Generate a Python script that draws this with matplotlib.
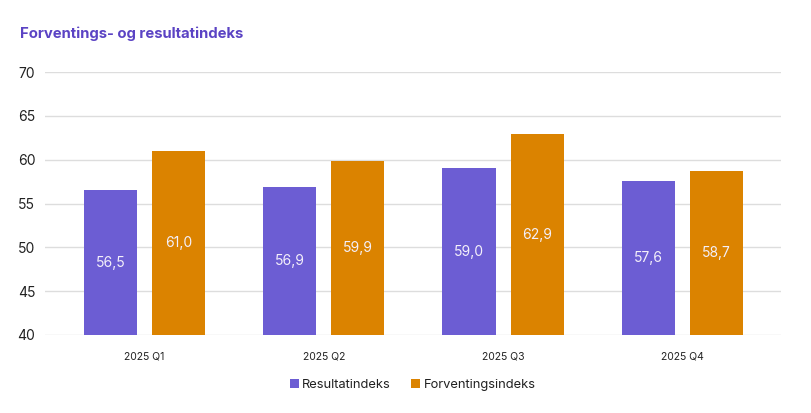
import matplotlib
matplotlib.use("Agg")
import matplotlib.pyplot as plt
import numpy as np

categories = ["2025 Q1", "2025 Q2", "2025 Q3", "2025 Q4"]
resultat = [56.5, 56.9, 59.0, 57.6]
forventning = [61.0, 59.9, 62.9, 58.7]
series_names = ["Resultatindeks", "Forventingsindeks"]
yticks = [40, 45, 50, 55, 60, 65, 70]

plt.rcParams['font.family'] = ['Inter', 'DejaVu Sans']

fig = plt.figure(figsize=(8.12, 4.13), dpi=100)
ax = fig.add_axes([45 / 812, 1 - 335 / 413, 736 / 812, 263 / 413])

purple = "#6C5DD3"
orange = "#DB8300"
x = np.arange(len(categories))
w = 0.296
off = 0.19
b1 = ax.bar(x - off, [v - 40 for v in resultat], w, bottom=40, color=purple, label=series_names[0], zorder=3)
b2 = ax.bar(x + off, [v - 40 for v in forventning], w, bottom=40, color=orange, label=series_names[1], zorder=3)

for bars, vals in ((b1, resultat), (b2, forventning)):
    for r, v in zip(bars, vals):
        ax.text(r.get_x() + r.get_width() / 2, (40 + v) / 2, f"{v:.1f}".replace(".", ","),
                ha="center", va="center", color="#f4f0fa", fontsize=10, zorder=4)

ax.set_xlim(-0.555, len(categories) - 1 + 0.55)
ax.set_ylim(40, 70)
ax.set_yticks(yticks)
ax.set_yticklabels([str(t) for t in yticks], fontsize=10, color="#222222")
ax.set_xticks(x)
ax.set_xticklabels(categories, fontsize=7.5, color="#222222")
ax.tick_params(axis="both", length=0)
ax.tick_params(axis="y", pad=7)
ax.tick_params(axis="x", pad=12)
ax.grid(axis="y", color="#dddddd", linewidth=1, zorder=0)
for s in ax.spines.values():
    s.set_visible(False)

fig.text(0.025, 0.918, "Forventings- og resultatindeks", fontsize=10.7, fontweight="bold",
         color="#5B43C4", ha="left", va="center")

leg = fig.legend(handles=[b1, b2], labels=series_names, loc="center", bbox_to_anchor=(0.508, 0.068),
                 ncol=2, frameon=False, fontsize=9.3, handlelength=0.7, handleheight=0.7,
                 handletextpad=0.25, columnspacing=1.6)
for t in leg.get_texts():
    t.set_color("#222222")

fig.savefig("out.png", dpi=100)
